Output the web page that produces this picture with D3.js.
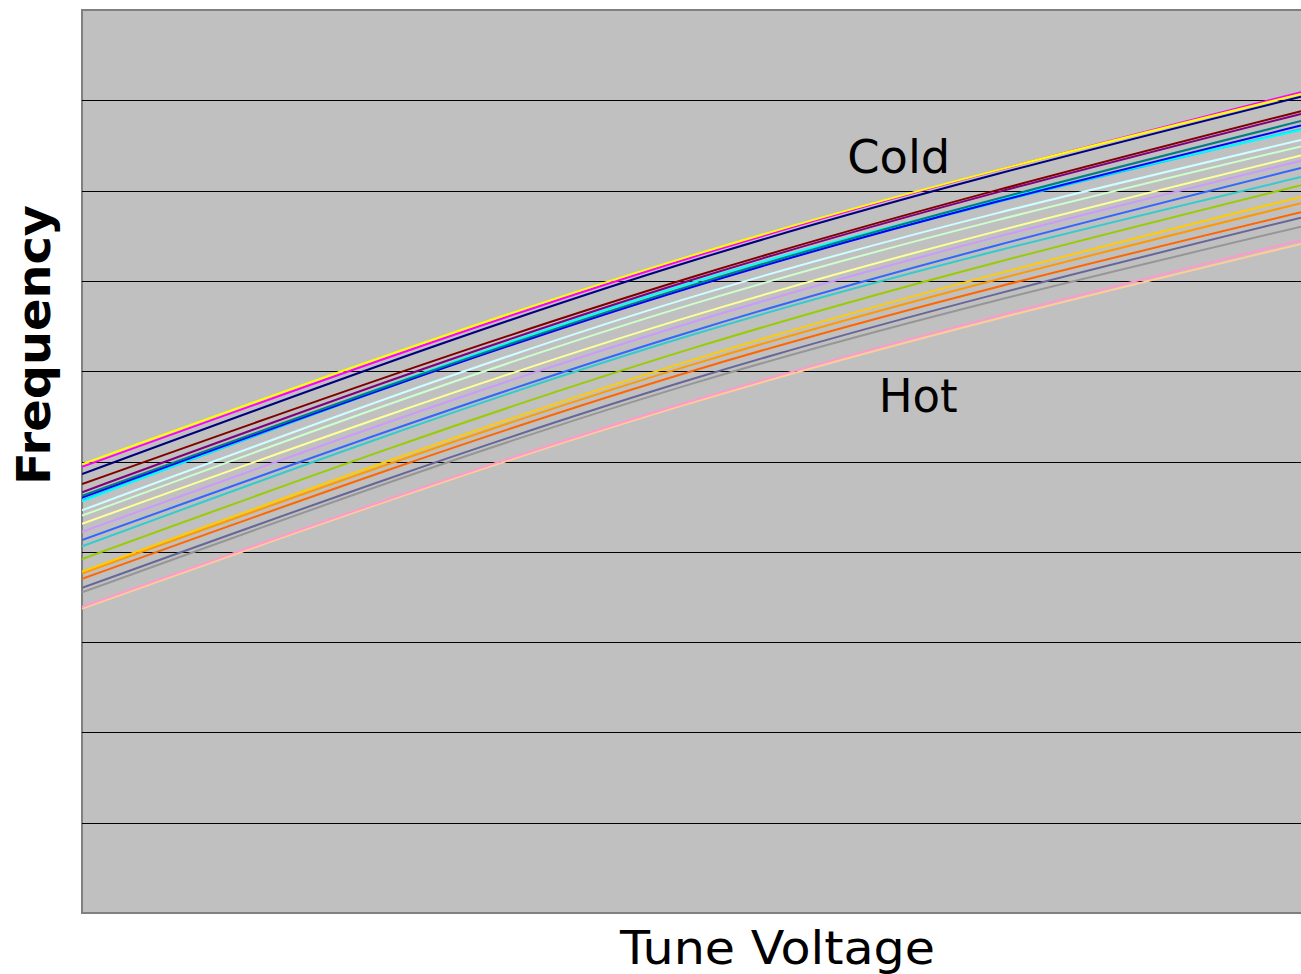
<!DOCTYPE html>
<html>
<head>
<meta charset="utf-8">
<script src="https://cdn.jsdelivr.net/npm/d3@7"></script>
<style>
  html, body { margin: 0; padding: 0; background: #fff; overflow: hidden; }
  svg { display: block; }
  text { font-family: "DejaVu Sans", Verdana, sans-serif; fill: #000; }
</style>
</head>
<body>
<svg id="chart" width="1301" height="974"></svg>
<script>
// Tune voltage sample points (arbitrary units, no labels on the axis)
const voltages = [0, 5, 10];

// Series colours (temperature steps, cold -> hot)
const seriesColors = [
  "#FFFF00", "#FF00FF", "#000080", "#800000", "#800080", "#008080",
  "#0000FF", "#00FFFF", "#00CCFF", "#CCFFFF", "#CCFFCC", "#FFFF99",
  "#CC99FF", "#3366FF", "#33CCCC", "#99CC00", "#FFCC00", "#FF9900",
  "#FF6600", "#666699", "#969696", "#FF99CC", "#FFCC99"
];

// Frequency values (relative units 0..100) at each tune voltage
const s01 = [49.7, 72.8, 90.7];
const s02 = [49.4, 72.6, 90.9];
const s03 = [48.6, 72.2, 90.4];
const s04 = [47.5, 70.4, 88.8];
const s05 = [46.6, 70.1, 88.5];
const s06 = [46.2, 69.5, 87.7];
const s07 = [46.0, 69.3, 87.2];
const s08 = [45.6, 69.8, 86.7];
const s09 = [45.7, 69.4, 86.8];
const s10 = [44.6, 68.2, 85.6];
const s11 = [44.0, 67.4, 84.9];
const s12 = [43.1, 66.1, 83.9];
const s13 = [42.2, 65.4, 83.3];
const s14 = [41.3, 64.4, 82.5];
const s15 = [40.6, 64.0, 81.5];
const s16 = [39.2, 62.5, 80.6];
const s17 = [37.8, 61.2, 79.3];
const s18 = [37.6, 60.7, 78.6];
const s19 = [37.0, 60.0, 77.6];
const s20 = [36.0, 59.1, 77.0];
const s21 = [35.5, 58.6, 76.0];
const s22 = [33.9, 56.7, 74.5];
const s23 = [33.7, 56.5, 74.1];

const seriesValues = [s01, s02, s03, s04, s05, s06, s07, s08, s09, s10, s11, s12,
  s13, s14, s15, s16, s17, s18, s19, s20, s21, s22, s23];

const yTicks = [10, 20, 30, 40, 50, 60, 70, 80, 90];

const annotations = [
  { text: "Cold", v: 6.70, f: 81.95, len: 103 },
  { text: "Hot", v: 6.86, f: 55.45, len: 79 }
];

const svg = d3.select("#chart");
const pLeft = 82, pTop = 10, pRight = 1303, pBottom = 913;

const x = d3.scaleLinear().domain([0, 10]).range([pLeft, 1301]);
const y = d3.scaleLinear().domain([0, 100]).range([pBottom, pTop]);

// Plot area
svg.append("rect")
  .attr("x", pLeft).attr("y", pTop)
  .attr("width", pRight - pLeft).attr("height", pBottom - pTop)
  .attr("fill", "#C0C0C0")
  .attr("stroke", "#808080").attr("stroke-width", 2);

// Gridlines via axis
const grid = svg.append("g")
  .attr("transform", `translate(${pLeft},0)`)
  .call(d3.axisRight(y).tickValues(yTicks).tickSize(pRight - pLeft).tickFormat(""));
grid.select(".domain").remove();
grid.selectAll("line").attr("stroke", "#000").attr("stroke-width", 1)
  .attr("shape-rendering", "crispEdges");

// Lines
const line = d3.line()
  .x((d, i) => x(voltages[i]))
  .y(d => y(d))
  .curve(d3.curveNatural);

svg.append("clipPath").attr("id", "clip")
  .append("rect").attr("x", pLeft).attr("y", pTop)
  .attr("width", pRight - pLeft).attr("height", pBottom - pTop);

svg.append("g").attr("clip-path", "url(#clip)")
  .selectAll("path")
  .data(seriesValues.map((vals, i) => ({ vals, color: seriesColors[i] })).reverse())
  .join("path")
  .attr("d", d => line(d.vals))
  .attr("fill", "none")
  .attr("stroke", d => d.color)
  .attr("stroke-width", 2);

// Annotations
svg.selectAll("text.ann")
  .data(annotations)
  .join("text")
  .attr("class", "ann")
  .attr("x", d => x(d.v)).attr("y", d => y(d.f))
  .attr("text-anchor", "middle")
  .attr("font-size", 46)
  .attr("textLength", d => d.len)
  .attr("lengthAdjust", "spacingAndGlyphs")
  .text(d => d.text);

// Axis titles
svg.append("text")
  .attr("x", 777.5).attr("y", 964)
  .attr("text-anchor", "middle")
  .attr("font-size", 46)
  .attr("textLength", 315)
  .attr("lengthAdjust", "spacingAndGlyphs")
  .text("Tune Voltage");

svg.append("text")
  .attr("transform", "translate(50,345) rotate(-90)")
  .attr("text-anchor", "middle")
  .attr("font-size", 46)
  .attr("font-weight", "bold")
  .attr("textLength", 280)
  .attr("lengthAdjust", "spacingAndGlyphs")
  .text("Frequency");
</script>
</body>
</html>
